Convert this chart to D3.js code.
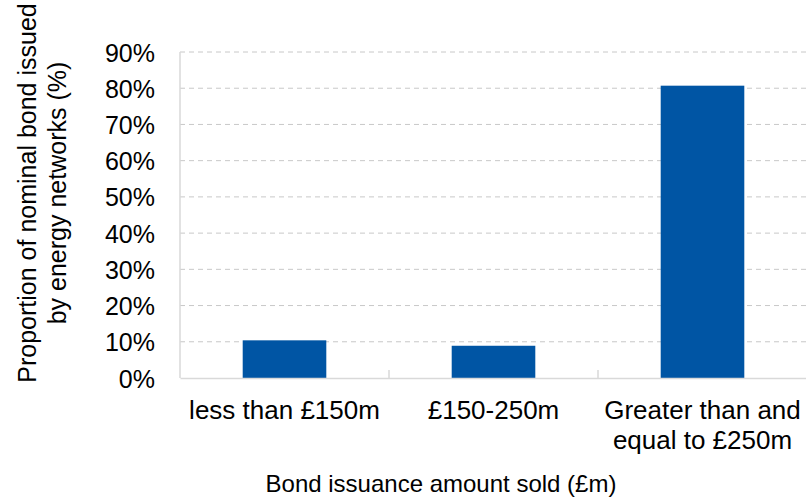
<!DOCTYPE html>
<html>
<head>
  <meta charset="UTF-8">
  <title>Bond issuance</title>
  <script src="https://d3js.org/d3.v7.min.js"></script>
  <style>
    body {
      margin: 0;
      font-family: "Liberation Sans", Arial, sans-serif;
      background: #fff;
    }
    .grid line {
      stroke: #c8c8c8;
      stroke-dasharray: 5 4;
    }
    text {
      fill: #000;
    }
  </style>
</head>
<body>
  <div id="chart"></div>
  <script>
    const categories = ["less than £150m", "£150-250m", "Greater than and|equal to £250m"];
    const values = [10.4, 8.9, 80.7];
    const yTicks = [0, 10, 20, 30, 40, 50, 60, 70, 80, 90];

    const W = 806, H = 497;
    const margin = { top: 52, right: 0, bottom: 119, left: 180 };
    const width = 807 - margin.left;
    const height = H - margin.top - margin.bottom;
    const font = "Liberation Sans, Arial, sans-serif";

    const svg = d3.select("#chart")
      .append("svg")
      .attr("width", W)
      .attr("height", H);

    const g = svg.append("g")
      .attr("transform", `translate(${margin.left}, ${margin.top})`);

    const x = d3.scaleBand()
      .domain(categories)
      .range([0, width])
      .paddingInner(0)
      .paddingOuter(0);

    const y = d3.scaleLinear()
      .domain([0, 90])
      .range([height, 0]);

    // dashed gridlines
    g.append("g")
      .attr("class", "grid")
      .selectAll("line")
      .data(yTicks.filter(d => d > 0))
      .enter()
      .append("line")
      .attr("x1", 0)
      .attr("x2", width)
      .attr("y1", d => y(d))
      .attr("y2", d => y(d));

    // y axis labels
    const yAxis = d3.axisLeft(y)
      .tickValues(yTicks)
      .tickFormat(d => d + "%")
      .tickSize(0)
      .tickPadding(25);

    const yg = g.append("g").call(yAxis);
    yg.select(".domain").remove();
    yg.selectAll("text")
      .style("font-size", "25px")
      .style("font-family", font)
      .attr("dy", "0.36em");

    // y axis line
    g.append("line")
      .attr("x1", 0).attr("x2", 0)
      .attr("y1", y(90)).attr("y2", y(0))
      .attr("stroke", "#d9d9d9")
      .attr("stroke-width", 1.5);

    // bars
    const barW = x.bandwidth() * 0.4;
    g.selectAll(".bar")
      .data(values)
      .enter()
      .append("rect")
      .attr("class", "bar")
      .attr("x", (d, i) => x(categories[i]) + (x.bandwidth() - barW) / 2)
      .attr("y", d => y(d))
      .attr("width", barW)
      .attr("height", d => y(0) - y(d))
      .attr("fill", "#0055a4");

    // x axis
    const xAxis = d3.axisBottom(x)
      .tickSize(0)
      .tickFormat("");
    const xg = g.append("g")
      .attr("transform", `translate(0, ${height})`)
      .call(xAxis);
    xg.select(".domain").attr("stroke", "#d9d9d9").attr("stroke-width", 1.5);

    // inward tick marks between categories
    g.selectAll(".xtick")
      .data(categories.slice(1).concat([null]))
      .enter()
      .append("line")
      .attr("x1", (d, i) => i < categories.length - 1 ? x(d) : width)
      .attr("x2", (d, i) => i < categories.length - 1 ? x(d) : width)
      .attr("y1", height)
      .attr("y2", height - 8)
      .attr("stroke", "#d9d9d9")
      .attr("stroke-width", 1.5);

    // category labels
    const lab = g.selectAll(".xlabel")
      .data(categories)
      .enter()
      .append("text")
      .attr("class", "xlabel")
      .attr("text-anchor", "middle")
      .style("font-size", "26px")
      .attr("transform", d => `translate(${x(d) + x.bandwidth() / 2}, ${height + 41})`);
    lab.each(function(d) {
      const parts = d.split("|");
      d3.select(this).selectAll("tspan")
        .data(parts)
        .enter()
        .append("tspan")
        .attr("x", 0)
        .attr("dy", (p, i) => i === 0 ? 0 : 30)
        .text(p => p);
    });

    // axis titles
    svg.append("text")
      .attr("x", 441)
      .attr("y", 492)
      .attr("text-anchor", "middle")
      .style("font-size", "24px")
      .text("Bond issuance amount sold (£m)");

    const yt = svg.append("text")
      .attr("transform", "translate(36, 193) rotate(-90)")
      .attr("text-anchor", "middle")
      .style("font-size", "25px");
    yt.append("tspan").attr("x", 0).attr("dy", 0).text("Proportion of nominal bond issued");
    yt.append("tspan").attr("x", 0).attr("dy", 30).text("by energy networks (%)");
  </script>
</body>
</html>
